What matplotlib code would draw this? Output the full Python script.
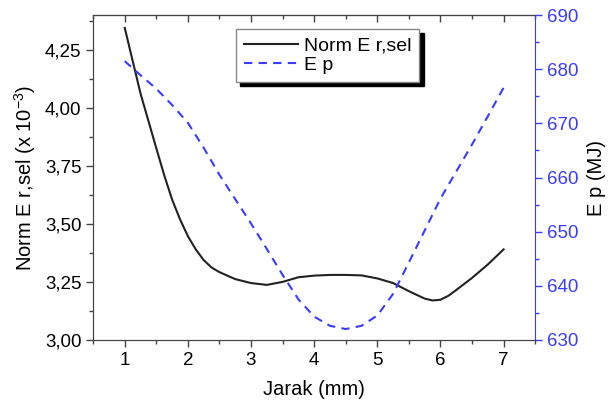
import matplotlib
matplotlib.use("Agg")
import matplotlib.pyplot as plt
from matplotlib.ticker import MultipleLocator, FuncFormatter

plt.rcParams['font.family'] = ['Liberation Sans', 'DejaVu Sans']
plt.rcParams['mathtext.fontset'] = 'custom'
plt.rcParams['mathtext.rm'] = 'Liberation Sans'
plt.rcParams['mathtext.it'] = 'Liberation Sans:italic'

# Norm E r,sel curve
jarak_e = [1.0, 1.25, 1.5, 1.625, 1.75, 1.875, 2.0, 2.125, 2.25, 2.375, 2.5, 2.75,
           3.0, 3.25, 3.5, 3.75, 4.0, 4.25, 4.5, 4.75, 5.0, 5.25, 5.5, 5.75, 5.875,
           6.0, 6.125, 6.25, 6.5, 6.75, 7.0]
norm_e_rsel = [4.345, 4.062, 3.826, 3.71, 3.605, 3.52, 3.447, 3.39, 3.344, 3.312, 3.292,
               3.262, 3.245, 3.237, 3.25, 3.27, 3.277, 3.28, 3.28, 3.278, 3.265, 3.245,
               3.21, 3.178, 3.170, 3.173, 3.19, 3.215, 3.267, 3.325, 3.39]

# E p curve
jarak_p = [1.0, 1.25, 1.5, 1.75, 2.0, 2.25, 2.5, 2.75, 3.0, 3.25, 3.5, 3.75, 4.0,
           4.25, 4.5, 4.75, 5.0, 5.25, 5.5, 5.75, 6.0, 6.25, 6.5, 6.75, 7.0]
e_p = [681.5, 678.9, 676.4, 673.4, 670.1, 665.5, 660.5, 656.0, 651.5, 646.8, 642.0,
       637.5, 634.3, 632.6, 632.0, 632.6, 634.5, 638.5, 644.3, 650.2, 656.1, 661.1,
       666.1, 671.3, 676.6]

blue = '#3b3bff'
fig = plt.figure(figsize=(6.13, 4.09), dpi=100)
ax = fig.add_axes([0.152, 0.169, 0.721, 0.794])
ax2 = ax.twinx()

l1, = ax.plot(jarak_e, norm_e_rsel, color='#222222', lw=1.5, label='Norm E r,sel')
l2, = ax2.plot(jarak_p, e_p, color=blue, lw=1.5, ls=(0, (4, 3)), label='E p')

ax.set_xlim(0.5, 7.5)
ax.set_ylim(3.0, 4.4)
ax2.set_ylim(630, 690)

ax.xaxis.set_major_locator(MultipleLocator(1))
ax.xaxis.set_minor_locator(MultipleLocator(0.5))
ax.yaxis.set_major_locator(MultipleLocator(0.25))
ax.yaxis.set_minor_locator(MultipleLocator(0.125))
ax.yaxis.set_major_formatter(FuncFormatter(lambda v, p: f"{v:.2f}".replace('.', ',')))
ax2.yaxis.set_major_locator(MultipleLocator(10))
ax2.yaxis.set_minor_locator(MultipleLocator(5))

spine_c = '#444444'
for s in ['left', 'top', 'bottom']:
    ax.spines[s].set_color(spine_c)
    ax2.spines[s].set_color(spine_c)
ax2.spines['right'].set_color(blue)
ax.spines['right'].set_visible(False)

tick_fs = 13.5
ax.tick_params(axis='both', which='major', labelsize=tick_fs, length=5, width=1, color=spine_c, direction='out')
ax.tick_params(axis='both', which='minor', length=3, width=1, color=spine_c, direction='out')
ax.tick_params(axis='x', which='both', top=False)
ax2.tick_params(axis='y', which='major', labelsize=tick_fs, length=5, width=1, colors=blue)
ax2.tick_params(axis='y', which='minor', length=3, width=1, color=blue)

# top ticks inward
secx = ax.secondary_xaxis('top')
secx.xaxis.set_major_locator(MultipleLocator(1))
secx.xaxis.set_minor_locator(MultipleLocator(0.5))
secx.tick_params(which='major', direction='in', length=5, width=1, color=spine_c, labeltop=False)
secx.tick_params(which='minor', direction='in', length=3, width=1, color=spine_c)
secx.spines['top'].set_color(spine_c)

label_fs = 14.5
ax.set_xlabel('Jarak (mm)', fontsize=label_fs, labelpad=8)
ax.set_ylabel('Norm E r,sel (x 10$^{-3}$)', fontsize=label_fs, labelpad=5)
ax2.set_ylabel('E p (MJ)', fontsize=label_fs, labelpad=6)

leg = ax.legend(handles=[l1, l2], loc='upper left', bbox_to_anchor=(0.3235, 0.957),
                fontsize=14, fancybox=False, framealpha=1, edgecolor='#888888',
                shadow={'color': 'black', 'alpha': 1, 'ox': 3, 'oy': -3},
                handlelength=2.8, borderpad=0.4, labelspacing=0.1, handletextpad=0.3,
                borderaxespad=0)
leg.get_frame().set_linewidth(1.0)

fig.savefig('out.png', dpi=100)
